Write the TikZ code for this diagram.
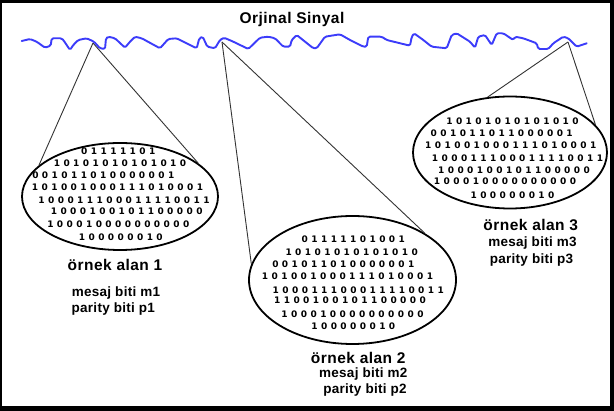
\documentclass[tikz,border=0pt]{standalone}
\usepackage{fontspec}
\setmainfont{Liberation Sans}
\newfontfamily\bigfam[LetterSpace=3]{Liberation Sans}
\newfontfamily\smallfam[LetterSpace=2]{Liberation Sans}
\newfontfamily\bitfam{DejaVu Sans}
\usetikzlibrary{shapes.geometric}
\newlength\bitw
\setlength\bitw{9.7pt}
\def\bitsloop#1{\ifx#1\relax\else\makebox[\bitw]{#1}\expandafter\bitsloop\fi}
\newcommand\bitrow[1]{\bitsloop#1\relax}
\tikzset{
  bigtxt/.style={inner sep=0pt, font=\bigfam\bfseries\fontsize{15.5}{17}\selectfont},
  smalltxt/.style={inner sep=0pt, font=\smallfam\bfseries\fontsize{13.5}{15}\selectfont},
  bits/.style={inner sep=0pt, font=\bitfam\bfseries\fontsize{9}{11}\selectfont},
  oval/.style={ellipse, draw=black, line width=1.8pt, inner sep=0pt},
  link/.style={draw=black!80, line width=0.9pt},
  wave/.style={draw={rgb,255:red,60;green,60;blue,250}, line width=1.9pt, rounded corners=1.5pt, line join=round, line cap=round}
}
\begin{document}
\begin{tikzpicture}[x=1pt,y=-1pt]
\useasboundingbox (0,0) rectangle (614,411);
\fill[black] (0,0) rectangle (614,411);
\fill[white] (2,3) rectangle (610,406.5);

\node[bigtxt] (title) at (292,19) {Orjinal Sinyal};

% ellipses
\node[oval, minimum width=196pt, minimum height=107pt] (e1) at (120,196.5) {};
\node[oval, minimum width=207pt, minimum height=128pt] (e2) at (352.5,280) {};
\node[oval, minimum width=194pt, minimum height=112pt] (e3) at (510,152.5) {};

% apex points on the wave
\coordinate (a1) at (93,43);
\coordinate (a2) at (222,42);
\coordinate (a3) at (568,42);

\draw[link] (a1) -- (e1.159);
\draw[link] (a1) -- (e1.23);
\draw[link] (a2) -- (e2.171.7);
\draw[link] (a2) -- (e2.33.5);
\draw[link] (a3) -- (e3.112.7);
\draw[link] (a3) -- (e3.18.6);

% wave
\draw[wave] (21.7,41) -- (30,39) -- (36.7,41.7) -- (45,47.7) -- (50.7,45.7) -- (51.7,38.3) -- (61.7,38.3) -- (64,41) -- (70,50) -- (73.3,45) -- (78.3,40) -- (86.7,38.3) -- (94,41.7) -- (100,48.3) -- (105,49) -- (106,38.3) -- (108.3,36.7) -- (115,38.3) -- (125,47.7) -- (130,41.7) -- (135,36.7) -- (141.7,38.3) -- (160,48.3) -- (168.3,39) -- (176.7,38.3) -- (196.7,48.3) -- (199.3,38.3) -- (202.7,36.7) -- (207.3,46.7) -- (215,48.3) -- (220,40) -- (224,37.7) -- (233.3,41.7) -- (248.3,49) -- (260,37.7) -- (268.3,36.7) -- (275,38.3) -- (283.3,46.7) -- (290,46.7) -- (291.7,40) -- (296.7,35) -- (313.3,48.3) -- (316.7,48.3) -- (325,36.7) -- (340,34.3) -- (350,40) -- (363.3,46.7) -- (366.7,46.7) -- (368.3,36.7) -- (381.7,36.7) -- (386.7,40) -- (410,45.7) -- (411.7,37) -- (414,33.3) -- (423.3,40) -- (431.7,46.7) -- (446.7,48.3) -- (451.7,35) -- (456.7,33.3) -- (470,41.7) -- (475,47.7) -- (478.3,36.7) -- (485,35) -- (491.7,45) -- (496.7,33.3) -- (503.3,33.3) -- (513.3,40) -- (515,36.7) -- (523.3,38.3) -- (536.7,43.3) -- (538.3,49) -- (548.3,49) -- (553.3,43.3) -- (563.3,36.7) -- (568.3,38.3) -- (576.7,46.7) -- (586.7,43.3);

% bits, ellipse 1
\node[bits] (b11) at (118.3,151.7) {\bitrow{01111101}};
\node[bits] (b12) at (120,163.3) {\bitrow{10101010101010}};
\node[bits] (b13) at (103.3,175) {\bitrow{001011010000001}};
\node[bits] (b14) at (117.5,187.3) {\bitrow{101001000111010001}};
\node[bits] (b15) at (124,200.7) {\bitrow{100011100011110011}};
\node[bits] (b16) at (126.7,211.7) {\bitrow{1000100101100000}};
\node[bits] (b17) at (118.3,224) {\bitrow{100010000000000}};
\node[bits] (b18) at (120.8,237.7) {\bitrow{100000010}};

% bits, ellipse 2
\node[bits] (b21) at (353.3,239.3) {\bitrow{01111101001}};
\node[bits] (b22) at (351.7,252.7) {\bitrow{10101010101010}};
\node[bits] (b23) at (343.3,264.3) {\bitrow{001011010000001}};
\node[bits] (b24) at (347.5,276.7) {\bitrow{101001000111010001}};
\node[bits] (b25) at (358.3,290) {\bitrow{100011100011110011}};
\node[bits] (b26) at (350,300.7) {\bitrow{1100100101100000}};
\node[bits] (b27) at (352.5,314) {\bitrow{100010000000000}};
\node[bits] (b28) at (353.3,326.7) {\bitrow{100000010}};

% bits, ellipse 3
\node[bits] (b31) at (512.5,121.7) {\bitrow{10101010101010}};
\node[bits] (b32) at (501.7,133.3) {\bitrow{001011011000001}};
\node[bits] (b33) at (510.8,145) {\bitrow{101001000111010001}};
\node[bits] (b34) at (517.5,158.3) {\bitrow{100011100011110011}};
\node[bits] (b35) at (514,170) {\bitrow{1000100101100000}};
\node[bits] (b36) at (505,181.7) {\bitrow{100010000000000}};
\node[bits] (b37) at (512.5,195) {\bitrow{100000010}};

% labels
\node[bigtxt] (l1a) at (115,265) {örnek alan 1};
\node[smalltxt] (l1b) at (116,293) {mesaj biti m1};
\node[smalltxt] (l1c) at (113.3,309) {parity biti p1};

\node[bigtxt] (l2a) at (358.3,358) {örnek alan 2};
\node[smalltxt] (l2b) at (363.3,374) {mesaj biti m2};
\node[smalltxt] (l2c) at (365,390) {parity biti p2};

\node[bigtxt] (l3a) at (530.8,225) {örnek alan 3};
\node[smalltxt] (l3b) at (532.5,243) {mesaj biti m3};
\node[smalltxt] (l3c) at (531.5,260) {parity biti p3};
\end{tikzpicture}
\end{document}
